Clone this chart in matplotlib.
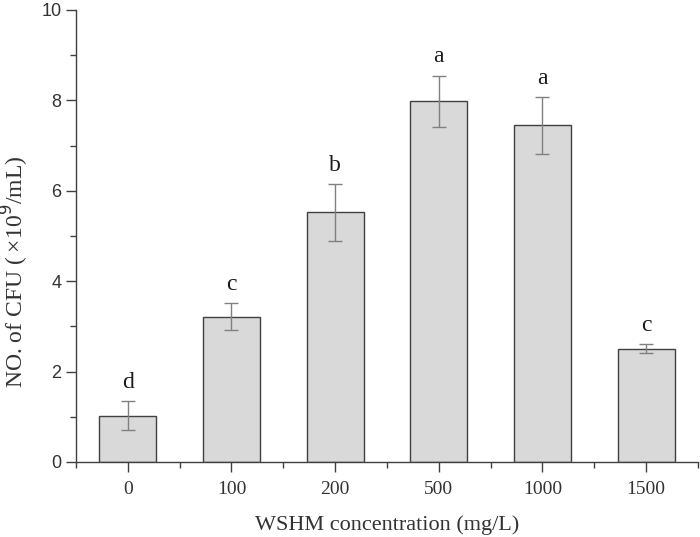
import matplotlib.pyplot as plt
from matplotlib.ticker import MultipleLocator, FixedLocator

# data
concentrations = ['0', '100', '200', '500', '1000', '1500']
cfu = [1.02, 3.21, 5.52, 7.98, 7.45, 2.51]
cfu_err = [0.32, 0.30, 0.62, 0.57, 0.63, 0.10]
letters = ['d', 'c', 'b', 'a', 'a', 'c']

serif = ['Liberation Serif', 'DejaVu Serif']
sans = ['Liberation Sans', 'DejaVu Sans']

fig = plt.figure(figsize=(7, 5.37), dpi=100)
ax = fig.add_axes([0.1086, 0.1397, 0.8884, 0.8417])

x = list(range(len(concentrations)))
ax.bar(x, cfu, width=0.55, color='#d9d9d9', edgecolor='#404040', linewidth=1.0, zorder=2)
ax.errorbar(x, cfu, yerr=cfu_err, fmt='none', ecolor='#808080', elinewidth=1.0,
            capsize=5, capthick=1.0, zorder=3)

for xi, v, e, lab in zip(x, cfu, cfu_err, letters):
    ax.text(xi, v + e + 0.18, lab, ha='center', va='bottom', fontsize=17,
            family=serif, color='#1a1a1a')

ax.set_xlim(-0.5, 5.5)
ax.set_ylim(0, 10)
ax.set_xticks(x)
ax.set_xticklabels(concentrations, family=serif, fontsize=14, color='#333333')
ax.xaxis.set_minor_locator(FixedLocator([i + 0.5 for i in range(-1, 6)]))
ax.yaxis.set_major_locator(MultipleLocator(2))
ax.yaxis.set_minor_locator(MultipleLocator(1))
for lab in ax.get_yticklabels():
    lab.set_family(sans)
    lab.set_fontsize(13)
    lab.set_color('#333333')

ax.tick_params(axis='both', which='major', direction='out', length=7, width=1.0, color='#404040')
ax.tick_params(axis='both', which='minor', direction='out', length=4, width=1.0, color='#404040')
ax.tick_params(axis='x', pad=7)

for side in ['top', 'right']:
    ax.spines[side].set_visible(False)
for side in ['left', 'bottom']:
    ax.spines[side].set_color('#404040')
    ax.spines[side].set_linewidth(1.0)

ax.set_xlabel('WSHM concentration (mg/L)', family=serif, fontsize=16, color='#333333', labelpad=12)
ax.set_ylabel('NO. of CFU (\u2009×10$^9$/mL)', family=serif, fontsize=17, color='#333333')
ax.yaxis.set_label_coords(-0.072, 0.42)

fig.savefig('out.png', dpi=100)
